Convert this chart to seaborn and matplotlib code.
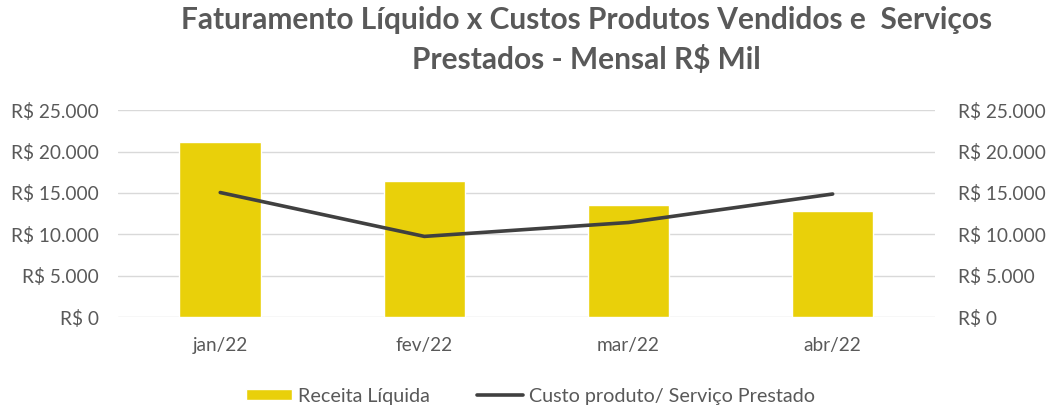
import matplotlib
matplotlib.use("Agg")
import matplotlib.pyplot as plt
import matplotlib.ticker as mticker
import seaborn as sns
import pandas as pd

# data (R$ mil)
meses = ["jan/22", "fev/22", "mar/22", "abr/22"]
receita_liquida = [21100, 16450, 13570, 12850]
custo_servico = [15050, 9750, 11430, 14870]

df = pd.DataFrame({"mes": meses, "receita": receita_liquida, "custo": custo_servico})

sns.set_theme(style="white")
plt.rcParams["font.family"] = ["Lato", "DejaVu Sans"]

txt = "#595959"
bar_color = "#E9D00A"
line_color = "#404040"

fig = plt.figure(figsize=(10.55, 4.05), dpi=100)
ax = fig.add_axes([0.112, 0.217, 0.774, 0.511])

sns.barplot(data=df, x="mes", y="receita", color=bar_color, width=0.4,
            saturation=1, ax=ax, label="Receita Líquida")
sns.lineplot(data=df, x="mes", y="custo", color=line_color, linewidth=2.6,
             ax=ax, label="Custo produto/ Serviço Prestado")

ax.set_xlim(-0.5, 3.5)
ax.set_ylim(0, 25000)
ax.set_yticks(range(0, 25001, 5000))
fmt = mticker.FuncFormatter(lambda v, p: "R$ " + f"{int(v):,}".replace(",", "."))
ax.yaxis.set_major_formatter(fmt)
ax.grid(axis="y", color="#D9D9D9", linewidth=1)
ax.set_axisbelow(True)
for s in ax.spines.values():
    s.set_visible(False)
ax.set_xlabel("")
ax.set_ylabel("")
ax.tick_params(axis="both", length=0, labelsize=13.7, colors=txt, pad=14)
ax.tick_params(axis="x", pad=14)

ax2 = ax.twinx()
ax2.set_ylim(ax.get_ylim())
ax2.set_yticks(range(0, 25001, 5000))
ax2.yaxis.set_major_formatter(fmt)
for s in ax2.spines.values():
    s.set_visible(False)
ax2.tick_params(axis="y", length=0, labelsize=13.7, colors=txt, pad=17)

# bar first, then line, like the reference
handles, labels = ax.get_legend_handles_labels()
order = [labels.index("Receita Líquida"), labels.index("Custo produto/ Serviço Prestado")]
ax.legend([handles[i] for i in order], [labels[i] for i in order],
          loc="upper center", bbox_to_anchor=(0.505, -0.255), ncol=2, frameon=False,
          fontsize=14.2, labelcolor=txt, handlelength=2.35, handleheight=0.5,
          handletextpad=0.3, columnspacing=2.4)

fig.text(0.556, 0.985, "Faturamento Líquido x Custos Produtos Vendidos e  Serviços\nPrestados - Mensal R$ Mil",
         ha="center", va="top", fontsize=21.5, fontweight="bold", color=txt,
         linespacing=1.45)

fig.savefig("out.png", dpi=100)
